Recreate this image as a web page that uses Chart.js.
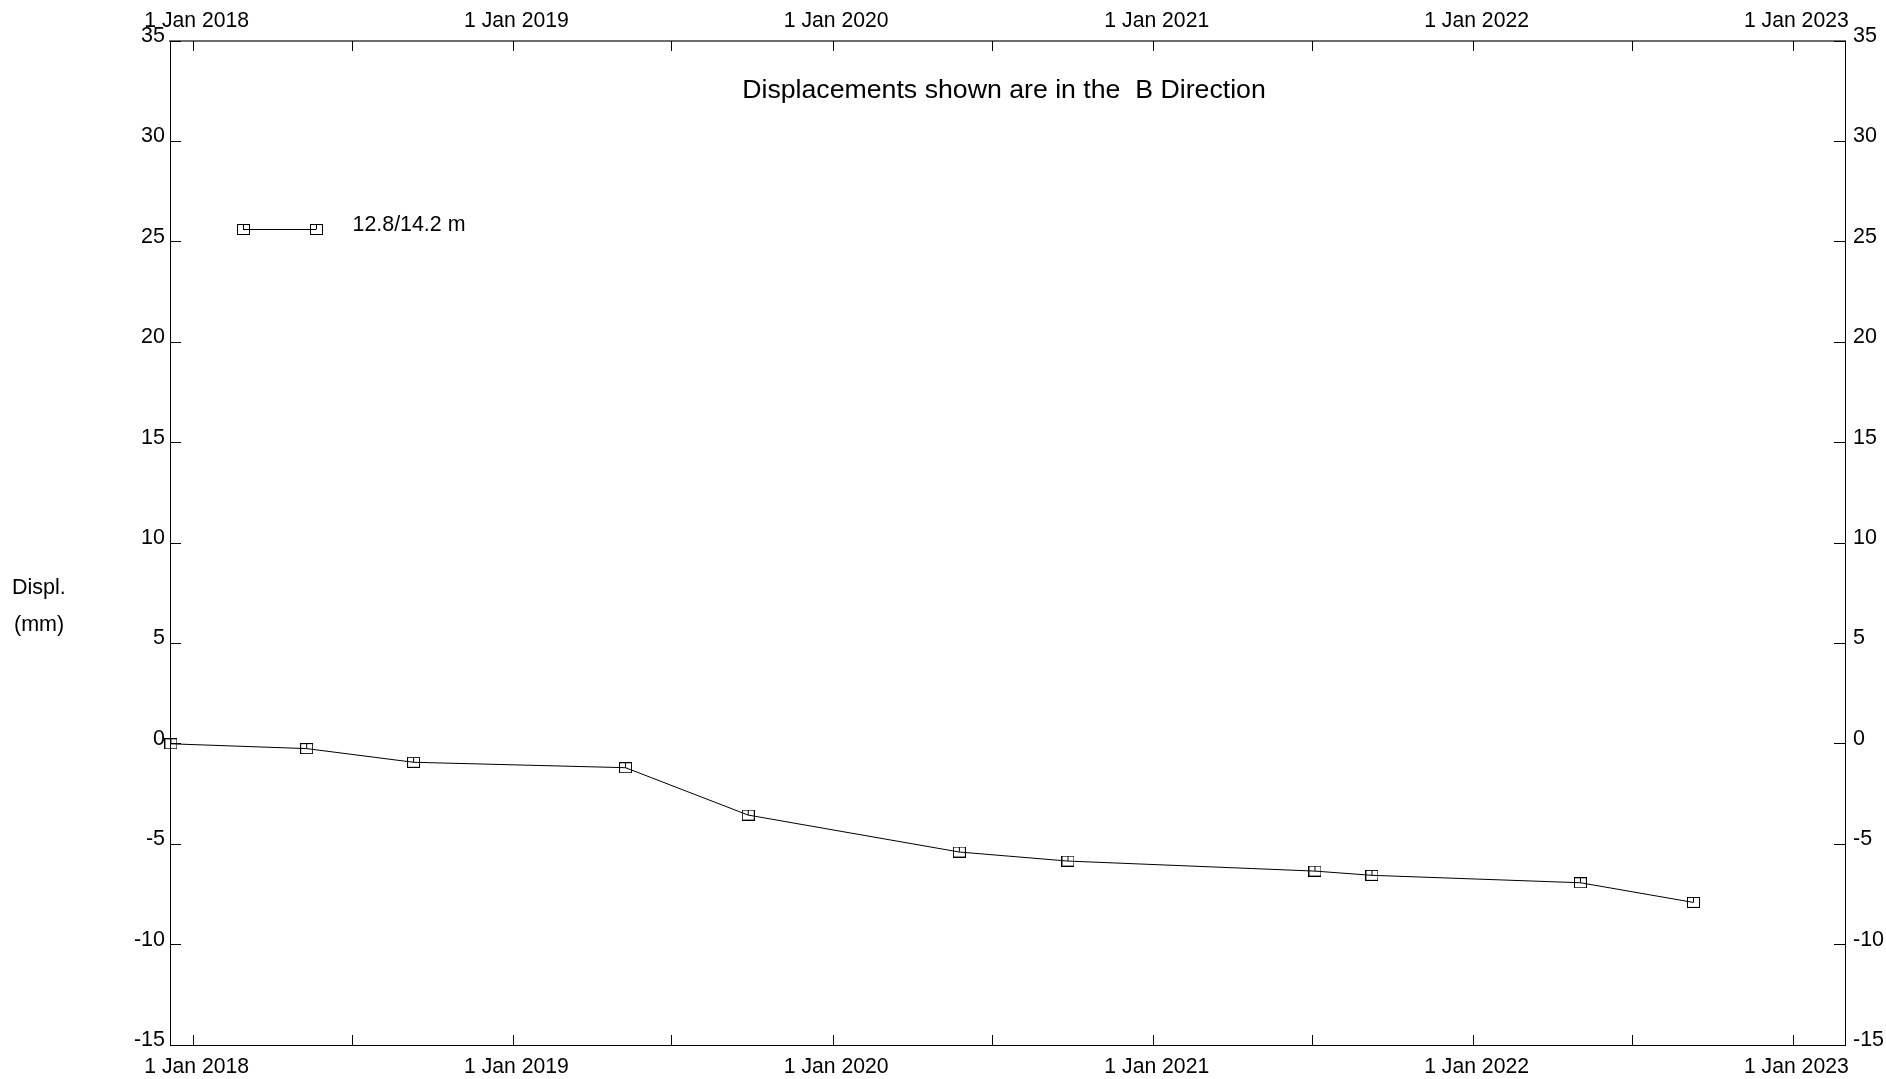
<!DOCTYPE html>
<html>
<head>
<meta charset="utf-8">
<script src="https://cdn.jsdelivr.net/npm/chart.js@4/dist/chart.umd.min.js"></script>
<style>
html,body{margin:0;padding:0;background:#fff;}
canvas{display:block;}
</style>
</head>
<body>
<canvas id="c" width="1886" height="1079"></canvas>
<script>
// ---- data ----
const readingDates = ['2017-12-06','2018-05-10','2018-09-09','2019-05-09','2019-09-26','2020-05-24','2020-09-25','2021-07-04','2021-09-07','2022-05-03','2022-09-09'];
const displacementB = [0, -0.24, -0.92, -1.19, -3.55, -5.39, -5.84, -6.34, -6.55, -6.92, -7.90];
const seriesLabel = '12.8/14.2 m';
const chartTitle = 'Displacements shown are in the  B Direction';
const yAxisLabelLines = ['Displ.', '(mm)'];
const xRange = ['2017-12-05', '2023-03-01'];
const xTickDates = ['2018-01-01','2018-07-01','2019-01-01','2019-07-01','2020-01-01','2020-07-01','2021-01-01','2021-07-01','2022-01-01','2022-07-01','2023-01-01'];
const yRange = [-15, 35];
const yStep = 5;

const FONT = '"Liberation Sans", Arial, Helvetica, sans-serif';
const toMs = s => { const [y,m,d] = s.split('-').map(Number); return Date.UTC(y, m-1, d); };
const xTickValues = xTickDates.map(toMs);
const MONTHS = ['Jan','Feb','Mar','Apr','May','Jun','Jul','Aug','Sep','Oct','Nov','Dec'];
const fmtTick = v => { const d = new Date(v); return d.getUTCMonth() === 0 && d.getUTCDate() === 1 ? '1 ' + MONTHS[0] + ' ' + d.getUTCFullYear() : ''; };

// marker: open square with a short vertical stroke from the top to the centre
function makeMarker() {
  const c = document.createElement('canvas');
  c.width = 13; c.height = 11;
  const g = c.getContext('2d');
  g.strokeStyle = '#000'; g.lineWidth = 1;
  g.strokeRect(0.5, 0.5, 12, 10);
  g.beginPath(); g.moveTo(6.5, 0.5); g.lineTo(6.5, 5.5); g.stroke();
  return c;
}
const marker = makeMarker();

const points = readingDates.map((d, i) => ({x: toMs(d), y: displacementB[i]}));

const xTicksHook = s => { s.ticks = xTickValues.map(v => ({value: v})); };
const yTicksHook = s => { const t = []; for (let v = yRange[0]; v <= yRange[1]; v += yStep) t.push({value: v}); s.ticks = t; };

const decor = {
  id: 'decor',
  afterDraw(chart) {
    const ctx = chart.ctx, a = chart.chartArea;
    ctx.save();
    ctx.strokeStyle = '#000'; ctx.lineWidth = 1;
    // inward tick marks
    const xb = chart.scales.x, xt = chart.scales.xTop, yl = chart.scales.y, yr = chart.scales.yRight;
    ctx.beginPath();
    xTickValues.forEach(v => {
      const px = Math.floor(xb.getPixelForValue(v)) + 0.5;
      ctx.moveTo(px, a.bottom); ctx.lineTo(px, a.bottom - 10);
      const pt = Math.floor(xt.getPixelForValue(v)) + 0.5;
      ctx.moveTo(pt, a.top); ctx.lineTo(pt, a.top + 10);
    });
    yl.ticks.forEach(t => {
      const py = Math.floor(yl.getPixelForValue(t.value)) + 0.5;
      ctx.moveTo(a.left, py); ctx.lineTo(a.left + 11, py);
      const pr = Math.floor(yr.getPixelForValue(t.value)) + 0.5;
      ctx.moveTo(a.right, pr); ctx.lineTo(a.right - 11, pr);
    });
    ctx.stroke();

    // title
    ctx.fillStyle = '#000';
    ctx.font = '26.7px ' + FONT;
    ctx.textAlign = 'center'; ctx.textBaseline = 'middle';
    ctx.fillText(chartTitle, (a.left + a.right) / 2 - 3.5, 91);

    // legend
    const lx1 = a.left + 73, lx2 = a.left + 146, ly = 229.5;
    ctx.beginPath(); ctx.moveTo(lx1, ly); ctx.lineTo(lx2, ly); ctx.stroke();
    ctx.drawImage(marker, Math.round(lx1 - 6.5), Math.round(ly - 5.5));
    ctx.drawImage(marker, Math.round(lx2 - 6.5), Math.round(ly - 5.5));
    ctx.font = '21.4px ' + FONT;
    ctx.textAlign = 'left'; ctx.textBaseline = 'alphabetic';
    ctx.fillText(seriesLabel, 352.5, 230.5);

    // y-axis title (horizontal, two lines)
    ctx.font = '21.5px ' + FONT;
    ctx.textBaseline = 'middle';
    ctx.fillText(yAxisLabelLines[0], 12, 588);
    ctx.fillText(yAxisLabelLines[1], 14, 625);
    ctx.restore();
  }
};

new Chart(document.getElementById('c'), {
  type: 'line',
  data: {
    datasets: [{
      label: seriesLabel,
      data: points,
      xAxisID: 'x',
      yAxisID: 'y',
      borderColor: '#000',
      borderWidth: 1,
      backgroundColor: 'transparent',
      fill: false,
      tension: 0,
      pointStyle: marker,
      pointRadius: 6,
      pointHoverRadius: 6,
      clip: false
    }]
  },
  options: {
    responsive: false,
    animation: false,
    devicePixelRatio: 1,
    layout: {padding: 0},
    plugins: {legend: {display: false}, title: {display: false}, tooltip: {enabled: false}},
    events: [],
    scales: {
      x: {
        type: 'linear', position: 'bottom',
        min: toMs(xRange[0]), max: toMs(xRange[1]), bounds: 'data',
        afterBuildTicks: xTicksHook,
        afterFit: s => { s.height = 34; },
        grid: {display: false, drawTicks: false},
        border: {display: true, color: '#000', width: 1},
        ticks: {autoSkip: false, maxRotation: 0, minRotation: 0, padding: 9, labelOffset: 3, color: '#000',
                font: {family: FONT, size: 21.2}, callback: fmtTick}
      },
      xTop: {
        type: 'linear', position: 'top',
        min: toMs(xRange[0]), max: toMs(xRange[1]), bounds: 'data',
        afterBuildTicks: xTicksHook,
        afterFit: s => { s.height = 41; },
        grid: {display: false, drawTicks: false},
        border: {display: true, color: '#6e6e6e', width: 2},
        ticks: {autoSkip: false, maxRotation: 0, minRotation: 0, padding: 7, labelOffset: 3, color: '#000',
                font: {family: FONT, size: 21.2}, callback: fmtTick}
      },
      y: {
        type: 'linear', position: 'left',
        min: yRange[0], max: yRange[1], bounds: 'data',
        afterBuildTicks: yTicksHook,
        afterFit: s => { s.width = 170; },
        grid: {display: false, drawTicks: false},
        border: {display: true, color: '#000', width: 1},
        ticks: {autoSkip: false, padding: 5, labelOffset: -5, color: '#000',
                font: {family: FONT, size: 21.5}, callback: v => String(v)}
      },
      yRight: {
        type: 'linear', position: 'right',
        min: yRange[0], max: yRange[1], bounds: 'data',
        afterBuildTicks: yTicksHook,
        afterFit: s => { s.width = 41; },
        grid: {display: false, drawTicks: false},
        border: {display: true, color: '#000', width: 1},
        ticks: {autoSkip: false, padding: 8, labelOffset: -5, color: '#000',
                font: {family: FONT, size: 21.5}, callback: v => String(v)}
      }
    }
  },
  plugins: [decor]
});
</script>
</body>
</html>
